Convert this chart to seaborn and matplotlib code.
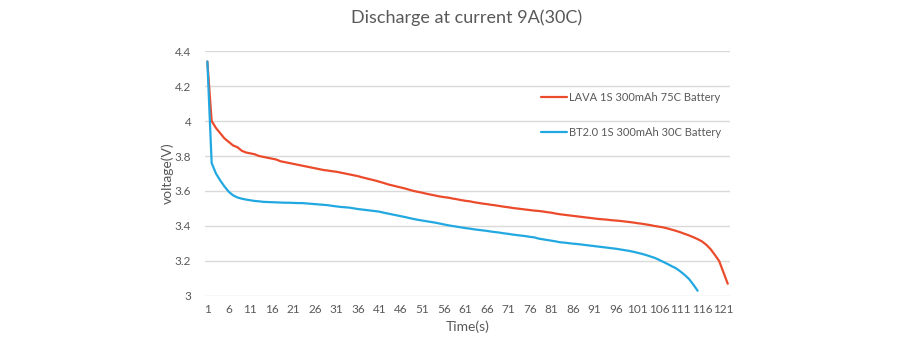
import matplotlib
matplotlib.use("Agg")
import matplotlib.pyplot as plt
import seaborn as sns
import pandas as pd

# Discharge curves sampled once per second (cell voltage, V)
lava_voltage = [
    4.34, 4.00, 3.96, 3.93, 3.90, 3.88, 3.86, 3.85, 3.83, 3.82,
    3.815, 3.81, 3.80, 3.795, 3.79, 3.785, 3.78, 3.77, 3.765, 3.76,
    3.755, 3.75, 3.745, 3.74, 3.735, 3.73, 3.725, 3.72, 3.717, 3.713,
    3.71, 3.705, 3.70, 3.695, 3.69, 3.685, 3.678, 3.672, 3.666, 3.66,
    3.653, 3.646, 3.638, 3.632, 3.626, 3.62, 3.614, 3.607, 3.60, 3.595,
    3.59, 3.584, 3.579, 3.574, 3.569, 3.565, 3.562, 3.557, 3.553, 3.548,
    3.544, 3.541, 3.536, 3.532, 3.528, 3.525, 3.521, 3.518, 3.514, 3.51,
    3.507, 3.503, 3.50, 3.497, 3.494, 3.491, 3.488, 3.486, 3.483, 3.479,
    3.476, 3.471, 3.467, 3.464, 3.461, 3.458, 3.455, 3.452, 3.449, 3.446,
    3.443, 3.44, 3.438, 3.436, 3.433, 3.431, 3.429, 3.426, 3.423, 3.42,
    3.416, 3.413, 3.409, 3.405, 3.40, 3.396, 3.392, 3.386, 3.379, 3.372,
    3.364, 3.355, 3.346, 3.336, 3.325, 3.312, 3.293, 3.268, 3.235, 3.20,
    3.135, 3.07,
]
bt2_voltage = [
    4.34, 3.76, 3.70, 3.66, 3.625, 3.595, 3.575, 3.563, 3.556, 3.551,
    3.547, 3.543, 3.541, 3.538, 3.537, 3.536, 3.535, 3.534, 3.533, 3.533,
    3.532, 3.531, 3.531, 3.529, 3.527, 3.525, 3.523, 3.521, 3.519, 3.515,
    3.512, 3.509, 3.507, 3.505, 3.501, 3.497, 3.494, 3.491, 3.488, 3.485,
    3.482, 3.476, 3.471, 3.466, 3.461, 3.456, 3.451, 3.445, 3.44, 3.435,
    3.431, 3.427, 3.423, 3.419, 3.414, 3.409, 3.404, 3.40, 3.396, 3.392,
    3.388, 3.385, 3.381, 3.378, 3.375, 3.372, 3.368, 3.365, 3.362, 3.358,
    3.355, 3.351, 3.348, 3.345, 3.342, 3.338, 3.335, 3.328, 3.324, 3.320,
    3.316, 3.312, 3.307, 3.305, 3.302, 3.299, 3.297, 3.294, 3.291, 3.288,
    3.285, 3.282, 3.279, 3.276, 3.273, 3.27, 3.266, 3.262, 3.258, 3.253,
    3.247, 3.241, 3.234, 3.226, 3.218, 3.207, 3.195, 3.183, 3.17, 3.158,
    3.14, 3.12, 3.097, 3.065, 3.03,
]
series_names = ["LAVA 1S 300mAh 75C Battery", "BT2.0 1S 300mAh 30C Battery"]
series_colors = ["#EB4B2B", "#22A8E1"]
x_tick_labels = [str(t) for t in range(1, 122, 5)]
y_tick_values = [3.0, 3.2, 3.4, 3.6, 3.8, 4.0, 4.2, 4.4]

frames = []
for name, values in zip(series_names, [lava_voltage, bt2_voltage]):
    frames.append(pd.DataFrame({
        "Time(s)": range(1, len(values) + 1),
        "voltage(V)": values,
        "battery": name,
    }))
df = pd.concat(frames, ignore_index=True)

sns.set_theme(style="white")
plt.rcParams["font.family"] = ["Lato", "DejaVu Sans"]
text_grey = "#595959"

fig = plt.figure(figsize=(9.0, 3.47), dpi=100)
ax = fig.add_axes([0.228, 0.147, 0.583, 0.706])

sns.lineplot(
    data=df, x="Time(s)", y="voltage(V)", hue="battery",
    hue_order=series_names, palette=series_colors,
    linewidth=1.6, ax=ax, legend=True,
)

ax.set_xlim(0.5, 122.5)
ax.set_ylim(3.0, 4.4)
ax.set_yticks(y_tick_values)
ax.set_yticklabels([f"{v:g}" for v in y_tick_values])
ax.set_xticks([int(t) for t in x_tick_labels])
ax.set_xticklabels(x_tick_labels)
ax.tick_params(axis="both", length=0, labelsize=8.5, colors=text_grey)
ax.tick_params(axis="y", pad=10)
ax.tick_params(axis="x", pad=6)

ax.yaxis.grid(True, color="#D9D9D9", linewidth=1.0)
ax.xaxis.grid(False)
ax.set_axisbelow(True)
for side in ["top", "right", "left", "bottom"]:
    ax.spines[side].set_visible(False)

ax.set_xlabel("Time(s)", fontsize=10, color=text_grey, labelpad=4)
ax.set_ylabel("voltage(V)", fontsize=10, color=text_grey, labelpad=1)
fig.suptitle("Discharge at current 9A(30C)", x=0.518, y=0.972,
             fontsize=13, color=text_grey)

leg = ax.legend(
    loc="upper left", bbox_to_anchor=(0.62, 0.875), frameon=False,
    fontsize=8, labelspacing=2.15, handlelength=2.4, handletextpad=0.2,
)
for text in leg.get_texts():
    text.set_color(text_grey)

fig.savefig("out.png", dpi=100, facecolor="white")
